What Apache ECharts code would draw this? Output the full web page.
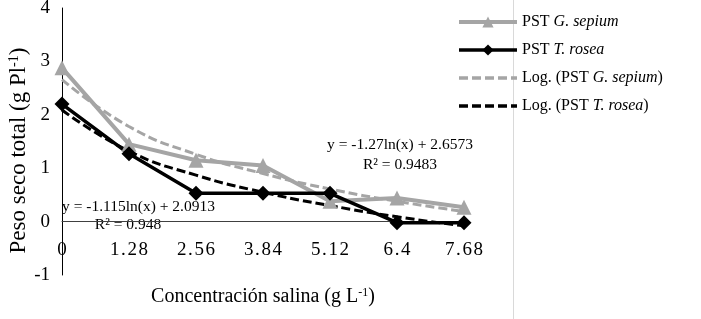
<!DOCTYPE html>
<html>
<head>
<meta charset="utf-8">
<script src="https://cdn.jsdelivr.net/npm/echarts@6/dist/echarts.min.js"></script>
<style>
  html, body { margin: 0; padding: 0; background: #fff; }
  #chart { width: 701px; height: 319px; }
</style>
</head>
<body>
<div id="chart"></div>
<script>
// salt concentration (g L-1)
const categories = ['0', '1.28', '2.56', '3.84', '5.12', '6.4', '7.68'];
// total dry weight
const gSepium = [2.88, 1.45, 1.15, 1.05, 0.38, 0.44, 0.27];
const tRosea = [2.2, 1.27, 0.53, 0.53, 0.53, -0.02, -0.02];
// logarithmic trend lines as drawn
const gSepiumLog = [2.66, 1.78, 1.26, 0.9, 0.61, 0.38, 0.19];
const tRoseaLog = [2.09, 1.32, 0.87, 0.55, 0.3, 0.09, -0.08];
const yTicks = { min: -1, max: 4, interval: 1 };

const serif = '"Liberation Serif", "Times New Roman", serif';
const gray = '#a5a5a5';

const chart = echarts.init(document.getElementById('chart'));
chart.setOption({
    animation: false,
    textStyle: { fontFamily: serif },
    grid: { left: 62, width: 402, top: 8, bottom: 44, containLabel: false, outerBoundsMode: 'none' },
    legend: {
        orient: 'vertical',
        left: 452,
        top: 9,
        itemWidth: 58,
        itemHeight: 14,
        itemGap: 12,
        data: [
            { name: 'PST G. sepium', lineStyle: { width: 4 } },
            { name: 'PST T. rosea', lineStyle: { width: 3.5 } },
            { name: 'Log. (PST G. sepium)', itemStyle: { opacity: 0 }, lineStyle: { width: 3.5 } },
            { name: 'Log. (PST T. rosea)', itemStyle: { opacity: 0 }, lineStyle: { width: 3.5 } }
        ],
        textStyle: {
            fontFamily: serif,
            fontSize: 16,
            color: '#000',
            rich: {
                n: { fontFamily: serif, fontSize: 16, color: '#000' },
                i: { fontFamily: serif, fontSize: 16, color: '#000', fontStyle: 'italic' }
            }
        },
        formatter: name => '{n|' + name.replace(/(G\. sepium|T\. rosea)/, '}{i|$1}{n|') + '}'
    },
    xAxis: {
        type: 'category',
        data: categories,
        boundaryGap: false,
        axisLine: { onZero: true, lineStyle: { color: '#404040', width: 1 } },
        axisTick: { show: false },
        axisLabel: {
            margin: -34,
            fontSize: 19,
            color: '#000',
            fontFamily: serif,
            formatter: v => v.split('').join('\u200A')
        },
        splitLine: { show: false },
        name: '{a|Concentración salina (g L}{s|-1}{a|)}',
        nameLocation: 'middle',
        nameGap: 12,
        nameTextStyle: {
            rich: {
                a: { fontFamily: serif, fontSize: 20, color: '#000' },
                s: { fontFamily: serif, fontSize: 12, color: '#000', verticalAlign: 'top' }
            }
        }
    },
    yAxis: {
        type: 'value',
        min: yTicks.min,
        max: yTicks.max,
        interval: yTicks.interval,
        axisLine: { show: true, lineStyle: { color: '#000', width: 1 } },
        axisTick: { show: false },
        axisLabel: { margin: 12, fontSize: 19, color: '#000', fontFamily: serif },
        splitLine: { show: false },
        name: '{a|Peso seco total (g Pl}{s|-1}{a|)}',
        nameLocation: 'middle',
        nameGap: 32,
        nameMoveOverlap: false,
        nameTextStyle: {
            padding: [0, 18, 0, 0],
            rich: {
                a: { fontFamily: serif, fontSize: 23, color: '#000' },
                s: { fontFamily: serif, fontSize: 14, color: '#000', verticalAlign: 'top' }
            }
        }
    },
    series: [
        {
            name: 'PST G. sepium',
            type: 'line',
            data: gSepium,
            symbol: 'triangle',
            symbolSize: 15,
            itemStyle: { color: gray },
            lineStyle: { color: gray, width: 4 }
        },
        {
            name: 'PST T. rosea',
            type: 'line',
            data: tRosea,
            symbol: 'diamond',
            symbolSize: 15,
            itemStyle: { color: '#000' },
            lineStyle: { color: '#000', width: 3.5 }
        },
        {
            name: 'Log. (PST G. sepium)',
            type: 'line',
            data: gSepiumLog,
            smooth: true,
            symbol: 'none',
            itemStyle: { color: gray },
            lineStyle: { color: gray, width: 3, type: [9, 4] }
        },
        {
            name: 'Log. (PST T. rosea)',
            type: 'line',
            data: tRoseaLog,
            smooth: true,
            symbol: 'none',
            itemStyle: { color: '#000' },
            lineStyle: { color: '#000', width: 3, type: [9, 4] }
        }
    ],
    graphic: [
        { type: 'line', shape: { x1: 513.5, y1: 0, x2: 513.5, y2: 319 }, style: { stroke: '#d9d9d9', lineWidth: 1 } },
        { type: 'text', x: 400, y: 145, style: { text: 'y = -1.27ln(x) + 2.6573', fontFamily: serif, fontSize: 15.5, fill: '#000', align: 'center', verticalAlign: 'middle' } },
        { type: 'text', x: 400, y: 165, style: { text: 'R² = 0.9483', fontFamily: serif, fontSize: 15.5, fill: '#000', align: 'center', verticalAlign: 'middle' } },
        { type: 'text', x: 62, y: 207, style: { text: 'y = -1.115ln(x) + 2.0913', fontFamily: serif, fontSize: 15.5, fill: '#000', align: 'left', verticalAlign: 'middle' } },
        { type: 'text', x: 128, y: 225, style: { text: 'R² = 0.948', fontFamily: serif, fontSize: 15.5, fill: '#000', align: 'center', verticalAlign: 'middle' } }
    ]
});
</script>
</body>
</html>
